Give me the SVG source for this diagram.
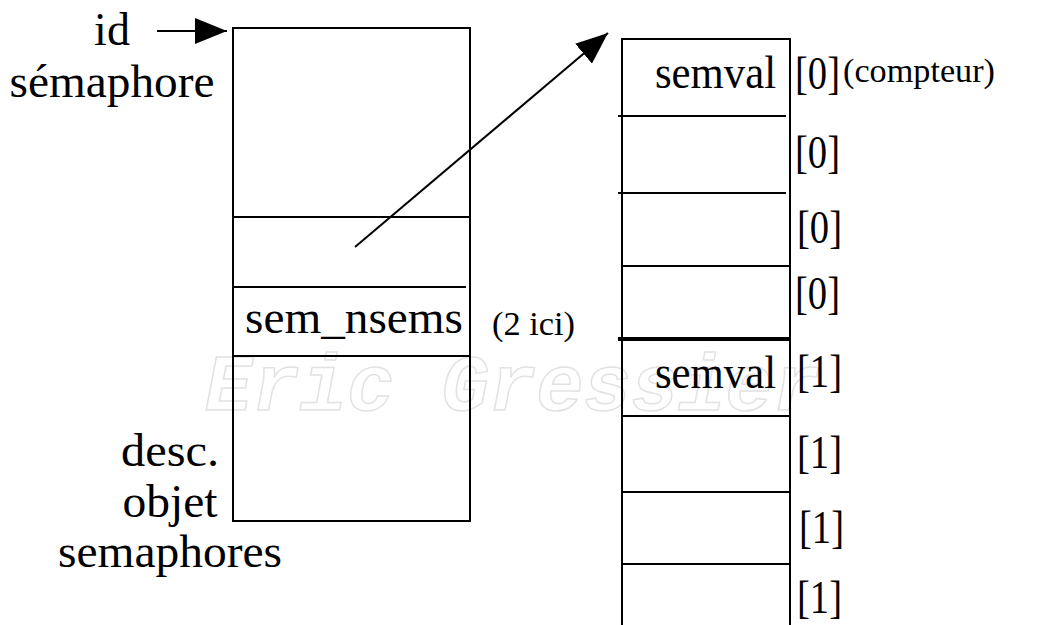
<svg xmlns="http://www.w3.org/2000/svg" width="1053" height="625" viewBox="0 0 1053 625">
  <style>
    .t { font-family: "Liberation Serif", "Times New Roman", serif; font-size: 46px; fill: #000; }
    .s { font-family: "Liberation Serif", "Times New Roman", serif; font-size: 34px; fill: #000; }
    .box { fill: none; stroke: #000; stroke-width: 2; }
    .sep { stroke: #000; stroke-width: 2; }
    .thick { stroke: #000; stroke-width: 4; }
    .conn { stroke: #000; stroke-width: 2; fill: none; }
    .wm { font-family: "Liberation Mono", monospace; font-size: 80px; font-weight: bold; font-style: italic; fill: none; stroke: #e2e2e2; stroke-width: 1.5; }
  </style>
  <defs>
    <marker id="arrow" viewBox="0 0 32 26" refX="32" refY="13" markerWidth="32" markerHeight="26" markerUnits="userSpaceOnUse" orient="auto">
      <path d="M0,0 L32,13 L0,26 Z" fill="#000"/>
    </marker>
  </defs>
  <rect width="1053" height="625" fill="#fff"/>
  <text class="wm" x="205" y="410" textLength="615" lengthAdjust="spacingAndGlyphs">Eric Gressier</text>

  <g id="label-id">
    <text class="t" x="112" y="45" text-anchor="middle">id</text>
    <text class="t" x="112" y="97" text-anchor="middle" textLength="205" lengthAdjust="spacingAndGlyphs">sémaphore</text>
  </g>

  <g id="descriptor">
    <rect class="box" x="233" y="28" width="237" height="493"/>
    <line class="sep" x1="233" y1="217" x2="470" y2="217"/>
    <line class="sep" x1="233" y1="287" x2="466" y2="287"/>
    <line class="sep" x1="233" y1="356" x2="470" y2="356"/>
    <text class="t" x="245" y="333" textLength="218" lengthAdjust="spacingAndGlyphs">sem_nsems</text>
    <text class="s" x="492" y="335" textLength="83" lengthAdjust="spacingAndGlyphs">(2 ici)</text>
    <text class="t" x="170" y="466" text-anchor="middle" textLength="98" lengthAdjust="spacingAndGlyphs">desc.</text>
    <text class="t" x="170" y="517" text-anchor="middle" textLength="95" lengthAdjust="spacingAndGlyphs">objet</text>
    <text class="t" x="170" y="567" text-anchor="middle" textLength="224" lengthAdjust="spacingAndGlyphs">semaphores</text>
  </g>

  <g id="semaphore-array">
    <rect class="box" x="622" y="39" width="168" height="600"/>
    <line class="sep" x1="618" y1="116" x2="786" y2="116"/>
    <line class="sep" x1="618" y1="193" x2="786" y2="193"/>
    <line class="sep" x1="622" y1="266" x2="790" y2="266"/>
    <line class="thick" x1="618" y1="339" x2="790" y2="339"/>
    <line class="sep" x1="622" y1="416" x2="790" y2="416"/>
    <line class="sep" x1="622" y1="492" x2="790" y2="492"/>
    <line class="sep" x1="622" y1="564" x2="790" y2="564"/>
    <text class="t" x="776" y="88" text-anchor="end" textLength="121" lengthAdjust="spacingAndGlyphs">semval</text>
    <text class="t" x="776" y="388" text-anchor="end" textLength="121" lengthAdjust="spacingAndGlyphs">semval</text>
    <text class="t" x="795" y="89" textLength="45" lengthAdjust="spacingAndGlyphs">[0]</text>
    <text class="s" x="843" y="82" textLength="152" lengthAdjust="spacingAndGlyphs">(compteur)</text>
    <text class="t" x="795" y="168" textLength="45" lengthAdjust="spacingAndGlyphs">[0]</text>
    <text class="t" x="797" y="243" textLength="45" lengthAdjust="spacingAndGlyphs">[0]</text>
    <text class="t" x="795" y="309" textLength="45" lengthAdjust="spacingAndGlyphs">[0]</text>
    <text class="t" x="797" y="387" textLength="45" lengthAdjust="spacingAndGlyphs">[1]</text>
    <text class="t" x="797" y="468" textLength="45" lengthAdjust="spacingAndGlyphs">[1]</text>
    <text class="t" x="799" y="543" textLength="45" lengthAdjust="spacingAndGlyphs">[1]</text>
    <text class="t" x="797" y="613" textLength="45" lengthAdjust="spacingAndGlyphs">[1]</text>
  </g>

  <g id="connectors">
    <line class="conn" x1="157" y1="31" x2="227" y2="31" marker-end="url(#arrow)"/>
    <line class="conn" x1="355" y1="247" x2="608" y2="33" marker-end="url(#arrow)"/>
  </g>
</svg>
